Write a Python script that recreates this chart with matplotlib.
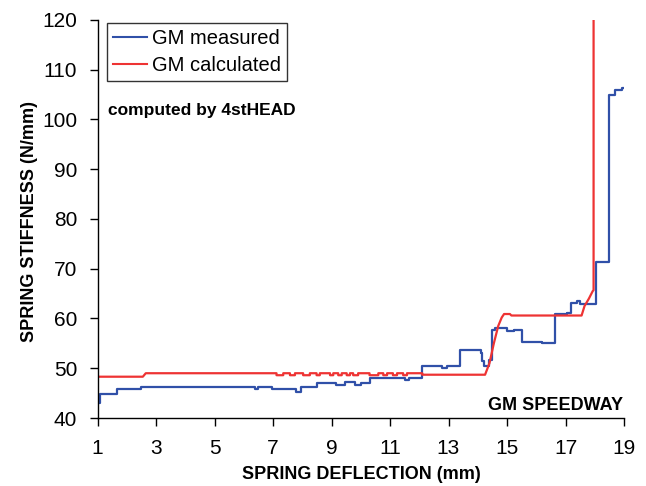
import matplotlib
matplotlib.use("Agg")
import matplotlib.pyplot as plt
from matplotlib import font_manager as fm

# ---- data ----
meas_x = [1.0, 1.08, 1.68, 2.5, 6.4, 6.5, 6.95, 7.8, 7.95, 8.5, 9.15, 9.45, 9.8, 10.0, 10.3,
          11.5, 11.65, 12.08, 12.77, 12.94, 13.4, 14.1, 14.15, 14.22, 14.38, 14.48, 14.6,
          15.0, 15.25, 15.5, 16.2, 16.65, 17.05, 17.2, 17.4, 17.5, 18.04, 18.5, 18.7, 18.93, 18.97]
meas_y = [43.0, 44.8, 45.9, 46.2, 45.9, 46.2, 45.8, 45.2, 46.2, 47.1, 46.7, 47.3, 46.7, 47.0, 48.0,
          47.7, 48.0, 50.5, 50.0, 50.5, 53.7, 53.0, 51.5, 50.5, 51.6, 57.7, 58.0,
          57.4, 57.7, 55.3, 55.1, 61.0, 61.2, 63.1, 63.5, 63.0, 71.4, 105.0, 105.9, 106.3, 106.3]

calc_x = [1.0, 2.55, 2.65, 7.12, 7.12, 7.35, 7.35, 7.58, 7.58, 7.75, 7.75, 8.03, 8.03, 8.26, 8.26,
          8.49, 8.49, 8.60, 8.60, 8.95, 8.95, 9.06, 9.06, 9.23, 9.23, 9.35, 9.35, 9.52, 9.52,
          9.63, 9.63, 9.74, 9.74, 9.91, 9.91, 10.3, 10.3, 10.6, 10.6, 10.77, 10.77, 10.9, 10.9,
          11.1, 11.1, 11.24, 11.24, 11.45, 11.45, 11.58, 11.58, 12.1, 12.1, 14.25,
          14.4, 14.55, 14.7, 14.82, 14.9, 15.1, 15.15, 17.55, 17.65, 17.8, 17.93, 17.96, 17.96]
calc_y = [48.3, 48.3, 49.0, 49.0, 48.6, 48.6, 49.0, 49.0, 48.6, 48.6, 49.0, 49.0, 48.6, 48.6, 49.0,
          49.0, 48.6, 48.6, 49.0, 49.0, 48.6, 48.6, 49.0, 49.0, 48.6, 48.6, 49.0, 49.0, 48.6,
          48.6, 49.0, 49.0, 48.6, 48.6, 49.0, 49.0, 48.6, 48.6, 49.0, 49.0, 48.6, 48.6, 49.0,
          49.0, 48.6, 48.6, 49.0, 49.0, 48.6, 48.6, 49.0, 49.0, 48.7, 48.7,
          51.0, 55.0, 58.5, 60.2, 60.9, 60.9, 60.6, 60.6, 62.5, 64.0, 65.5, 65.7, 120.0]

x_ticks = [1, 3, 5, 7, 9, 11, 13, 15, 17, 19]
y_ticks = [40, 50, 60, 70, 80, 90, 100, 110, 120]

# ---- fonts ----
names = {f.name for f in fm.fontManager.ttflist}
cond_props = dict(family=['Liberation Sans', 'DejaVu Sans'], fontsize=13, fontweight='bold')
if 'Liberation Sans Narrow' in names:
    cond_props = dict(family=['Liberation Sans Narrow', 'DejaVu Sans'], fontsize=15.5, fontweight='bold')
elif 'DejaVu Sans Condensed' in names:
    cond_props = dict(family=['DejaVu Sans Condensed', 'DejaVu Sans'], fontsize=13, fontweight='bold')
plt.rcParams['font.family'] = ['Liberation Sans', 'DejaVu Sans']

fig = plt.figure(figsize=(6.46, 4.86), dpi=100)
ax = fig.add_axes([97.5/646, 1-418/486, 526.5/646, 398/486])

blue = '#3050a8'
red = '#ee3333'
ax.plot(meas_x, meas_y, drawstyle='steps-post', color=blue, lw=1.6, label='GM measured')
ax.plot(calc_x, calc_y, color=red, lw=1.6, label='GM calculated')

ax.set_xlim(1, 19)
ax.set_ylim(40, 120)
ax.set_xticks(x_ticks)
ax.set_yticks(y_ticks)
ax.tick_params(axis='both', labelsize=15, direction='out', length=6, width=1, colors='black')
ax.tick_params(axis='x', pad=9)
ax.tick_params(axis='y', pad=8.5)
for s in ['top', 'right']:
    ax.spines[s].set_visible(False)
for s in ['left', 'bottom']:
    ax.spines[s].set_linewidth(1)

leg = ax.legend(loc='upper left', bbox_to_anchor=(0.018, 0.9925), fontsize=14.5, frameon=True,
                fancybox=False, edgecolor='black', handlelength=1.7, handletextpad=0.25,
                borderpad=0.3, labelspacing=0.4, borderaxespad=0)
leg.get_frame().set_linewidth(1)
for l in leg.get_lines():
    l.set_linewidth(1.5)

ax.text(108/646, 1-110/486, 'computed by 4stHEAD', transform=fig.transFigure,
        fontsize=12.5, fontweight='bold', va='center', ha='left')
ax.text(623/646, 1-405/486, 'GM SPEEDWAY', transform=fig.transFigure,
        va='center', ha='right', **cond_props)

fig.text(361/646, 1-474/486, 'SPRING DEFLECTION (mm)', ha='center', va='center', **cond_props)
fig.text(29.5/646, 1-221/486, 'SPRING STIFFNESS (N/mm)', ha='center', va='center',
         rotation=90, **cond_props)

fig.savefig('out.png', dpi=100)
